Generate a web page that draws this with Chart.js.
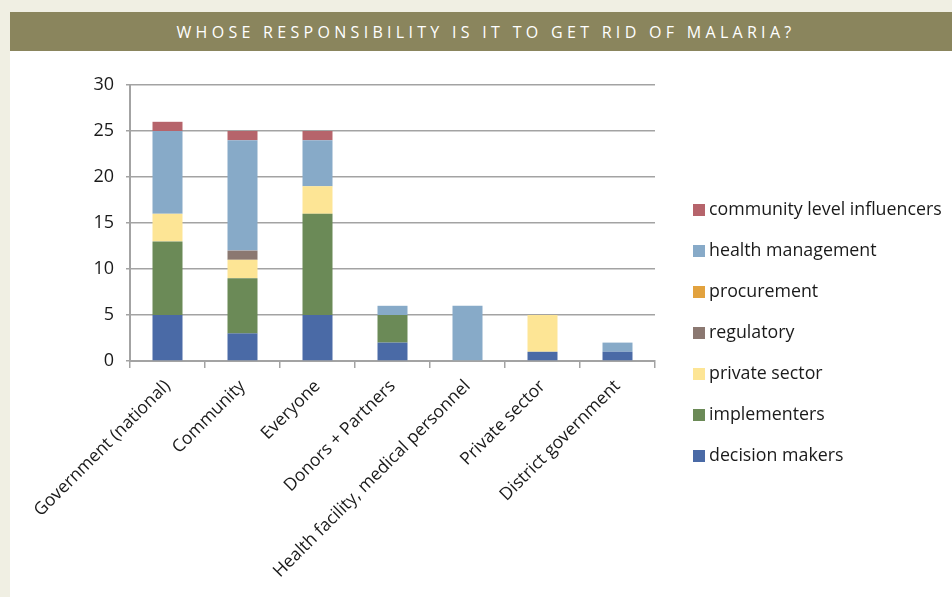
<!DOCTYPE html>
<html>
<head>
<meta charset="utf-8">
<script src="https://cdn.jsdelivr.net/npm/chart.js@4.4.1/dist/chart.umd.min.js"></script>
<style>
  html, body { margin: 0; padding: 0; }
  body { width: 952px; height: 597px; background: #f0efe3; position: relative; overflow: hidden; font-family: "Open Sans", sans-serif; }
  .titlebar { position: absolute; left: 10px; top: 12px; width: 932px; padding-left: 10px; height: 39px; background: #8a855d; color: #fff; text-align: center; line-height: 40px; font-size: 16px; letter-spacing: 4.3px; }
  .panel { position: absolute; left: 10px; top: 51px; width: 942px; height: 546px; background: #fff; }
  #chart-box { position: absolute; left: 0; top: 0; width: 942px; height: 546px; }
  .legend { position: absolute; left: 683px; top: 146px; margin: 0; padding: 0; list-style: none; }
  .legend li { height: 41px; line-height: 22px; font-size: 17.8px; color: #1a1a1a; white-space: nowrap; }
  .legend span { display: inline-block; width: 12px; height: 12px; margin-right: 4px; vertical-align: -1px; }
</style>
</head>
<body>
<div class="titlebar">WHOSE RESPONSIBILITY IS IT TO GET RID OF MALARIA?</div>
<div class="panel">
  <div id="chart-box"><canvas id="chart"></canvas></div>
  <ul class="legend" id="legend"></ul>
</div>
<script>
// Categorias (eje X)
const categories = ['Government (national)', 'Community', 'Everyone', 'Donors + Partners',
  'Health facility, medical personnel', 'Private sector', 'District government'];

// Valores por grupo, de abajo hacia arriba en cada columna
const decisionMakers = [5, 3, 5, 2, 0, 1, 1];
const implementers = [8, 6, 11, 3, 0, 0, 0];
const privateSector = [3, 2, 3, 0, 0, 4, 0];
const regulatory = [0, 1, 0, 0, 0, 0, 0];
const procurement = [0, 0, 0, 0, 0, 0, 0];
const healthManagement = [9, 12, 5, 1, 6, 0, 1];
const communityInfluencers = [1, 1, 1, 0, 0, 0, 0];

const yTicks = [0, 5, 10, 15, 20, 25, 30];

const series = [
  { label: 'decision makers', data: decisionMakers, color: '#4a6aa6' },
  { label: 'implementers', data: implementers, color: '#6b8a57' },
  { label: 'private sector', data: privateSector, color: '#fde595' },
  { label: 'regulatory', data: regulatory, color: '#8b7871' },
  { label: 'procurement', data: procurement, color: '#e2a23e' },
  { label: 'health management', data: healthManagement, color: '#87aac8' },
  { label: 'community level influencers', data: communityInfluencers, color: '#b6646b' }
];

const gridColor = '#a3a3a3';
const textColor = '#1a1a1a';

// Leyenda: mismo orden que el apilado, pero invertido (arriba primero)
const legend = document.getElementById('legend');
series.slice().reverse().forEach(s => {
  const li = document.createElement('li');
  li.innerHTML = '<span style="background:' + s.color + '"></span>' + s.label;
  legend.appendChild(li);
});

const ctx = document.getElementById('chart').getContext('2d');
new Chart(ctx, {
  type: 'bar',
  data: {
    labels: categories,
    datasets: series.map(s => ({
      label: s.label,
      data: s.data,
      backgroundColor: s.color,
      borderWidth: 0,
      barPercentage: 0.4,
      categoryPercentage: 1
    }))
  },
  options: {
    responsive: true,
    maintainAspectRatio: false,
    animation: false,
    layout: { padding: { top: 34, right: 297, left: 0, bottom: 0 } },
    plugins: {
      legend: { display: false },
      tooltip: { enabled: false }
    },
    scales: {
      x: {
        stacked: true,
        afterFit: scale => { scale.height = 236; },
        border: { color: gridColor, width: 2 },
        grid: { drawOnChartArea: false, color: gridColor, lineWidth: 1.5, tickLength: 7, offset: true },
        ticks: {
          autoSkip: false,
          minRotation: 45,
          maxRotation: 45,
          padding: 8,
          color: textColor,
          font: { family: 'Open Sans', size: 17.5 }
        }
      },
      y: {
        stacked: true,
        min: 0,
        max: 30,
        afterFit: scale => { scale.width = 120; },
        afterBuildTicks: scale => { scale.ticks = yTicks.map(v => ({ value: v })); },
        border: { color: gridColor, width: 2 },
        grid: { color: gridColor, lineWidth: 1.5, tickLength: 4 },
        ticks: {
          padding: 12,
          color: textColor,
          font: { family: 'Open Sans', size: 18 }
        }
      }
    }
  }
});
</script>
</body>
</html>
